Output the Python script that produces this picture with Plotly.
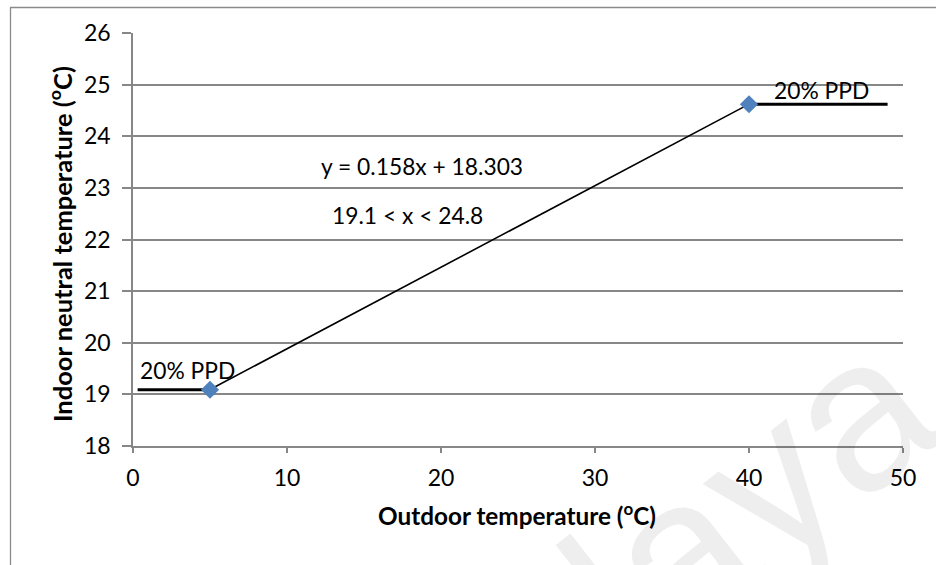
import plotly.graph_objects as go

# ---- data ----
ppd_low_x = [0.3, 5]
ppd_low_y = [19.09, 19.09]
fit_x = [5, 40]
fit_y = [19.093, 24.623]
ppd_high_x = [40, 49]
ppd_high_y = [24.62, 24.62]
point_x = [5, 40]
point_y = [19.09, 24.62]
x_ticks = [0, 10, 20, 30, 40, 50]
y_ticks = [18, 19, 20, 21, 22, 23, 24, 25, 26]

FONT = "Lato, sans-serif"
GRID = "#878787"
TXT = 22.8
TICK = 23

fig = go.Figure()
fig.add_trace(go.Scatter(x=ppd_low_x, y=ppd_low_y, mode="lines",
                         line=dict(color="black", width=3), showlegend=False, hoverinfo="skip"))
fig.add_trace(go.Scatter(x=ppd_high_x, y=ppd_high_y, mode="lines",
                         line=dict(color="black", width=3), showlegend=False, hoverinfo="skip"))
fig.add_trace(go.Scatter(x=fit_x, y=fit_y, mode="lines",
                         line=dict(color="black", width=1.6), showlegend=False, hoverinfo="skip"))
fig.add_trace(go.Scatter(x=point_x, y=point_y, mode="markers",
                         marker=dict(symbol="diamond", size=14, color="#4F81BD"),
                         showlegend=False))

W, H = 936, 565
L, R, T, B = 133, 33, 33, 119
pw, ph = W - L - R, H - T - B

def px(xp):
    return (xp - L) / pw

def py(yp):
    return (H - B - yp) / ph

fig.update_layout(
    width=W, height=H,
    margin=dict(l=L, r=R, t=T, b=B),
    paper_bgcolor="white", plot_bgcolor="white",
    font=dict(family=FONT, size=22, color="black"),
    xaxis=dict(range=[0, 50], tickvals=x_ticks, showgrid=False, zeroline=False,
               showline=True, linecolor=GRID, linewidth=1.5,
               ticks="outside", ticklen=5, tickwidth=1.5, tickcolor=GRID,
               tickfont=dict(family=FONT, size=TICK, color="black"),
               ticklabelstandoff=6, fixedrange=True),
    yaxis=dict(range=[18, 26], tickvals=y_ticks, showgrid=True, gridcolor=GRID, gridwidth=1.5,
               zeroline=False, showline=True, linecolor=GRID, linewidth=1.5,
               ticks="outside", ticklen=9, tickwidth=1.5, tickcolor=GRID,
               tickfont=dict(family=FONT, size=TICK, color="black"),
               ticklabelstandoff=7, fixedrange=True),
    shapes=[dict(type="rect", xref="paper", yref="paper",
                 x0=px(10.5), x1=px(990), y0=py(640), y1=py(7.5),
                 line=dict(color="#8a8a8a", width=1.3), fillcolor="rgba(0,0,0,0)", layer="below")],
    annotations=[
        dict(text="Malaya", xref="paper", yref="paper", x=px(632), y=py(588),
             showarrow=False, textangle=-38, xanchor="center", yanchor="middle",
             font=dict(family="Liberation Sans, Arial, sans-serif", size=215, color="rgba(0,0,0,0.065)")),
        dict(text="y = 0.158x + 18.303", x=12.1, y=23.42, xanchor="left", yanchor="middle",
             showarrow=False, font=dict(size=TXT)),
        dict(text="19.1 < x < 24.8", x=12.8, y=22.47, xanchor="left", yanchor="middle",
             showarrow=False, font=dict(size=TXT)),
        dict(text="20% PPD", x=41.5, y=24.9, xanchor="left", yanchor="middle", showarrow=False,
             font=dict(size=TXT)),
        dict(text="20% PPD", x=0.3, y=19.47, xanchor="left", yanchor="middle", showarrow=False,
             font=dict(size=TXT)),
        dict(text="<b>Outdoor temperature (<sup>o</sup>C)</b>", xref="paper", yref="paper",
             x=px(517), y=py(514), xanchor="center", yanchor="middle", showarrow=False,
             font=dict(size=24.3)),
        dict(text="<b>Indoor neutral temperature (<sup>o</sup>C)</b>", xref="paper", yref="paper",
             x=px(60), y=py(244), xanchor="center", yanchor="middle", textangle=-90,
             showarrow=False, font=dict(size=25.5)),
    ],
)

fig.write_html("out.html")
